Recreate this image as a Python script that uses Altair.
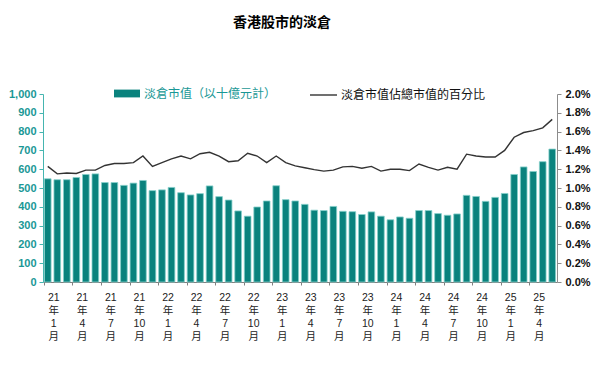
import altair as alt
import pandas as pd

months = [
    "21年1月", "21年2月", "21年3月", "21年4月", "21年5月", "21年6月",
    "21年7月", "21年8月", "21年9月", "21年10月", "21年11月", "21年12月",
    "22年1月", "22年2月", "22年3月", "22年4月", "22年5月", "22年6月",
    "22年7月", "22年8月", "22年9月", "22年10月", "22年11月", "22年12月",
    "23年1月", "23年2月", "23年3月", "23年4月", "23年5月", "23年6月",
    "23年7月", "23年8月", "23年9月", "23年10月", "23年11月", "23年12月",
    "24年1月", "24年2月", "24年3月", "24年4月", "24年5月", "24年6月",
    "24年7月", "24年8月", "24年9月", "24年10月", "24年11月", "24年12月",
    "25年1月", "25年2月", "25年3月", "25年4月", "25年5月", "25年6月",
]

short_value = [
    549, 544, 544, 556, 572, 575, 529, 529, 514, 526, 540, 486,
    490, 503, 475, 463, 470, 511, 454, 436, 378, 350, 399, 431,
    512, 438, 431, 413, 382, 380, 402, 376, 374, 359, 373, 350,
    331, 346, 339, 380, 380, 364, 355, 362, 461, 455, 429, 450,
    471, 572, 612, 588, 640, 707,
]

short_pct = [
    1.23, 1.15, 1.16, 1.155, 1.19, 1.19, 1.24, 1.26, 1.26, 1.27, 1.34, 1.23,
    1.27, 1.31, 1.34, 1.31, 1.365, 1.38, 1.34, 1.28, 1.29, 1.37, 1.34, 1.27,
    1.34, 1.27, 1.235, 1.215, 1.196, 1.18, 1.19, 1.225, 1.23, 1.21, 1.23, 1.18,
    1.20, 1.20, 1.185, 1.255, 1.22, 1.19, 1.22, 1.20, 1.36, 1.34, 1.33, 1.33,
    1.40, 1.54, 1.59, 1.61, 1.64, 1.73,
]

tick_labels = months[::3]
left_ticks = [0, 100, 200, 300, 400, 500, 600, 700, 800, 900, 1000]
right_ticks = [0.0, 0.2, 0.4, 0.6, 0.8, 1.0, 1.2, 1.4, 1.6, 1.8, 2.0]

BAR_NAME = "淡倉市值（以十億元計）"
LINE_NAME = "淡倉市值佔總市值的百分比"
TITLE = "香港股市的淡倉"

TEAL = "#0A827D"
TEAL_EDGE = "#86D0CC"
TEAL_TXT = "#1A9896"
TEAL_AXIS = "#45B5B0"
FONT = "Liberation Sans, Noto Sans CJK TC, sans-serif"

df = pd.DataFrame({
    "month": months,
    "value": short_value,
    "pct": short_pct,
    "bar_series": [BAR_NAME] * len(months),
    "line_series": [LINE_NAME] * len(months),
})

x_enc = alt.X(
    "month:N",
    sort=None,
    title=None,
    scale=alt.Scale(paddingInner=0.3, paddingOuter=0.15),
    axis=alt.Axis(
        values=tick_labels,
        bandPosition=0,
        labelOffset=6,
        labelAngle=0,
        labelAlign="center",
        labelBaseline="top",
        labelExpr="split(replace(replace(datum.label, '年', '|年|'), '月', '|月'), '|')",
        labelLineHeight=13,
        labelFontSize=10.5,
        labelColor="#222222",
        labelPadding=7,
        tickSize=3,
        tickColor="#808080",
        domainColor="#808080",
    ),
)

bars = alt.Chart(df).mark_bar(color=TEAL, stroke=TEAL_EDGE, strokeWidth=0.8).encode(
    x=x_enc,
    y=alt.Y(
        "value:Q",
        title=None,
        scale=alt.Scale(domain=[0, 1000], nice=False),
        axis=alt.Axis(
            orient="left",
            values=left_ticks,
            labelExpr="format(datum.value, ',d')",
            labelColor=TEAL_TXT,
            labelFontWeight="bold",
            labelFontSize=11,
            domainColor=TEAL_AXIS,
            tickColor=TEAL_AXIS,
            tickSize=4,
            labelPadding=3,
            grid=False,
        ),
    ),
    color=alt.Color(
        "bar_series:N",
        scale=alt.Scale(domain=[BAR_NAME], range=[TEAL]),
        legend=alt.Legend(
            orient="none",
            legendX=71,
            legendY=-13.5,
            title=None,
            symbolType="M-1,-0.3H1V0.3H-1Z",
            symbolSize=676,
            symbolStrokeWidth=0,
            labelColor=TEAL_TXT,
            labelFontSize=12,
            labelOffset=4,
        ),
    ),
)

line = alt.Chart(df).mark_line(strokeWidth=1.4).encode(
    x=x_enc,
    y=alt.Y(
        "pct:Q",
        title=None,
        scale=alt.Scale(domain=[0, 2], nice=False),
        axis=alt.Axis(
            orient="right",
            values=right_ticks,
            labelExpr="format(datum.value, '.1f') + '%'",
            labelColor="#111111",
            labelFontWeight="bold",
            labelFontSize=11,
            domainColor="#8C8C8C",
            tickColor="#8C8C8C",
            tickSize=4,
            labelPadding=4,
            grid=False,
        ),
    ),
    stroke=alt.Stroke(
        "line_series:N",
        scale=alt.Scale(domain=[LINE_NAME], range=["#333333"]),
        legend=alt.Legend(
            orient="none",
            legendX=266,
            legendY=-13.5,
            title=None,
            symbolType="stroke",
            symbolSize=729,
            symbolStrokeWidth=1.4,
            labelColor="#111111",
            labelFontSize=12,
            labelOffset=3,
        ),
    ),
)

chart = (
    alt.layer(bars, line)
    .resolve_scale(y="independent", color="independent")
    .properties(
        width=514,
        height=188,
        autosize=alt.AutoSizeParams(type="none"),
        padding={"left": 35, "top": 86, "right": 35, "bottom": 75},
        title=alt.TitleParams(
            TITLE,
            fontSize=14,
            fontWeight="bold",
            color="#000000",
            anchor="middle",
            dx=-18,
            offset=51,
            font=FONT,
        ),
    )
    .configure(font=FONT)
    .configure_view(stroke=None)
    .configure_axis(labelFont=FONT)
    .configure_legend(labelFont=FONT)
)

chart.save("out.html", embed_options={"renderer": "svg", "actions": False})
